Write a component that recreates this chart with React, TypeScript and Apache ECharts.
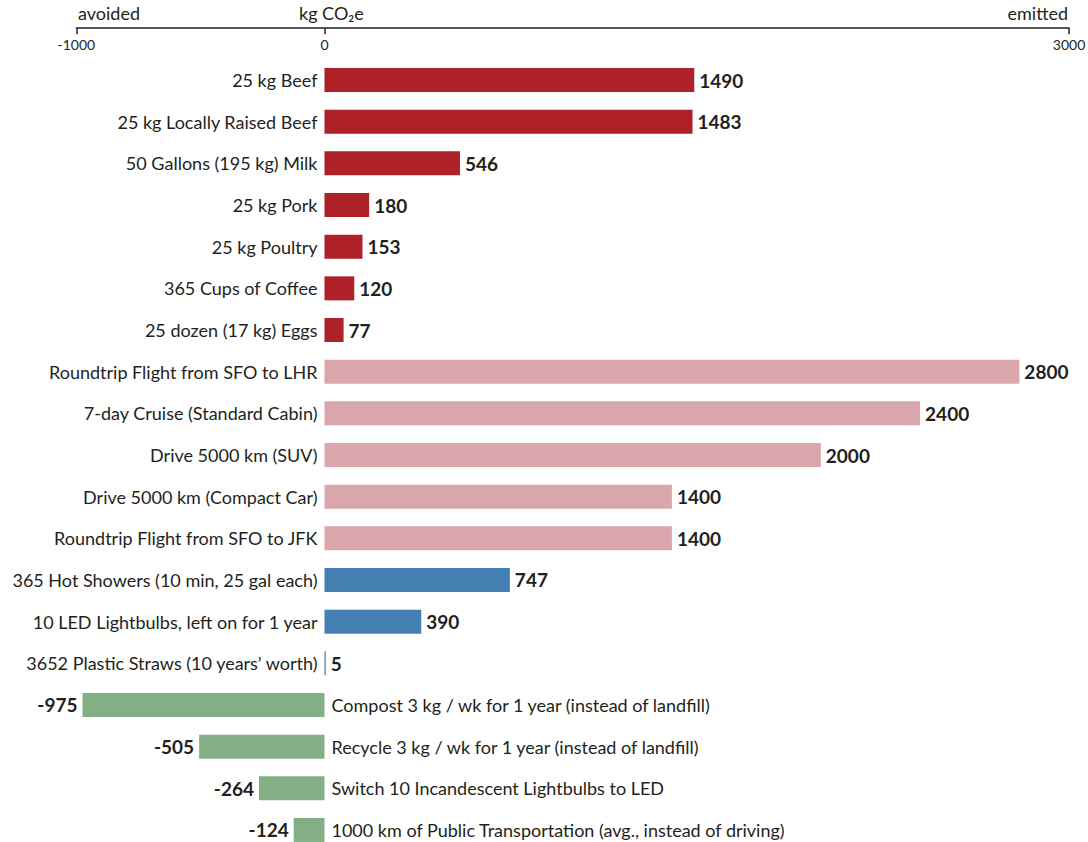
import React, { useEffect, useRef } from "react";
import * as echarts from "echarts";

const categories = [
  "25 kg Beef",
  "25 kg Locally Raised Beef",
  "50 Gallons (195 kg) Milk",
  "25 kg Pork",
  "25 kg Poultry",
  "365 Cups of Coffee",
  "25 dozen (17 kg) Eggs",
  "Roundtrip Flight from SFO to LHR",
  "7-day Cruise (Standard Cabin)",
  "Drive 5000 km (SUV)",
  "Drive 5000 km (Compact Car)",
  "Roundtrip Flight from SFO to JFK",
  "365 Hot Showers (10 min, 25 gal each)",
  "10 LED Lightbulbs, left on for 1 year",
  "3652 Plastic Straws (10 years\u2019 worth)",
  "Compost 3 kg / wk for 1 year (instead of landfill)",
  "Recycle 3 kg / wk for 1 year (instead of landfill)",
  "Switch 10 Incandescent Lightbulbs to LED",
  "1000 km of Public Transportation (avg., instead of driving)",
];

const values = [1490, 1483, 546, 180, 153, 120, 77, 2800, 2400, 2000, 1400, 1400, 747, 390, 5, -975, -505, -264, -124];

const groups = [
  "food", "food", "food", "food", "food", "food", "food",
  "travel", "travel", "travel", "travel", "travel",
  "home", "home", "home",
  "avoid", "avoid", "avoid", "avoid",
];

const xTicks = [-1000, 0, 3000];

const groupColors: Record<string, string> = {
  food: "#AE2128",
  travel: "#D9A7AB",
  home: "#4680B3",
  avoid: "#82AF85",
};

const FONT = "Lato";
const TEXT = "#231F20";

export default function App() {
  const ref = useRef<HTMLDivElement>(null);

  useEffect(() => {
    if (!ref.current) return;
    const chart = echarts.init(ref.current, undefined, { renderer: "svg" });

    const valueData = values.map((v, i) => ({
      value: v,
      itemStyle: { color: groupColors[groups[i]] },
      label: { position: v >= 0 ? "right" : "left" },
    }));
    const nameData = values.map((v) => ({
      value: v,
      label: { position: v >= 0 ? "left" : "right" },
    }));

    chart.setOption({
      animation: false,
      grid: {
        left: 76.3,
        right: 19,
        top: 59.2,
        bottom: -8.8,
        containLabel: false,
        outerBoundsMode: "none",
      },
      xAxis: {
        type: "value",
        position: "top",
        offset: 31,
        min: -1000,
        max: 3000,
        interval: 1000,
        axisLine: { show: true, lineStyle: { color: TEXT, width: 1.5 } },
        axisTick: {
          show: true,
          inside: true,
          length: 6,
          customValues: xTicks,
          lineStyle: { color: TEXT, width: 1.5 },
        },
        axisLabel: {
          inside: true,
          margin: 9,
          customValues: xTicks,
          color: TEXT,
          fontFamily: FONT,
          fontSize: 14,
          verticalAlign: "top",
          formatter: (v: number) => String(v),
        },
        splitLine: { show: false },
      },
      yAxis: {
        type: "category",
        inverse: true,
        data: categories,
        axisLine: { show: false },
        axisTick: { show: false },
        axisLabel: { show: false },
        splitLine: { show: false },
      },
      graphic: [
        {
          type: "text",
          left: 78,
          top: 4,
          style: { text: "avoided", fill: TEXT, font: `18px ${FONT}` },
        },
        {
          type: "text",
          left: 299,
          top: 4,
          style: { text: "kg CO\u2082e", fill: TEXT, font: `18px ${FONT}` },
        },
        {
          type: "text",
          right: 20,
          top: 4,
          style: { text: "emitted", fill: TEXT, font: `18px ${FONT}` },
        },
      ],
      series: [
        {
          type: "bar",
          data: valueData,
          barWidth: 24,
          label: {
            show: true,
            distance: 5,
            color: TEXT,
            fontFamily: FONT,
            fontWeight: "bold",
            fontSize: 19,
            formatter: "{c}",
          },
          z: 2,
        },
        {
          type: "bar",
          data: nameData,
          barWidth: 24,
          barGap: "-100%",
          itemStyle: { color: "rgba(0,0,0,0)" },
          label: {
            show: true,
            distance: 7,
            color: TEXT,
            fontFamily: FONT,
            fontSize: 18,
            formatter: "{b}",
          },
          z: 3,
        },
      ],
    });

    return () => chart.dispose();
  }, []);

  return (
    <div
      ref={ref}
      style={{ position: "absolute", left: 0, top: 0, width: 1088, height: 842 }}
    />
  );
}
